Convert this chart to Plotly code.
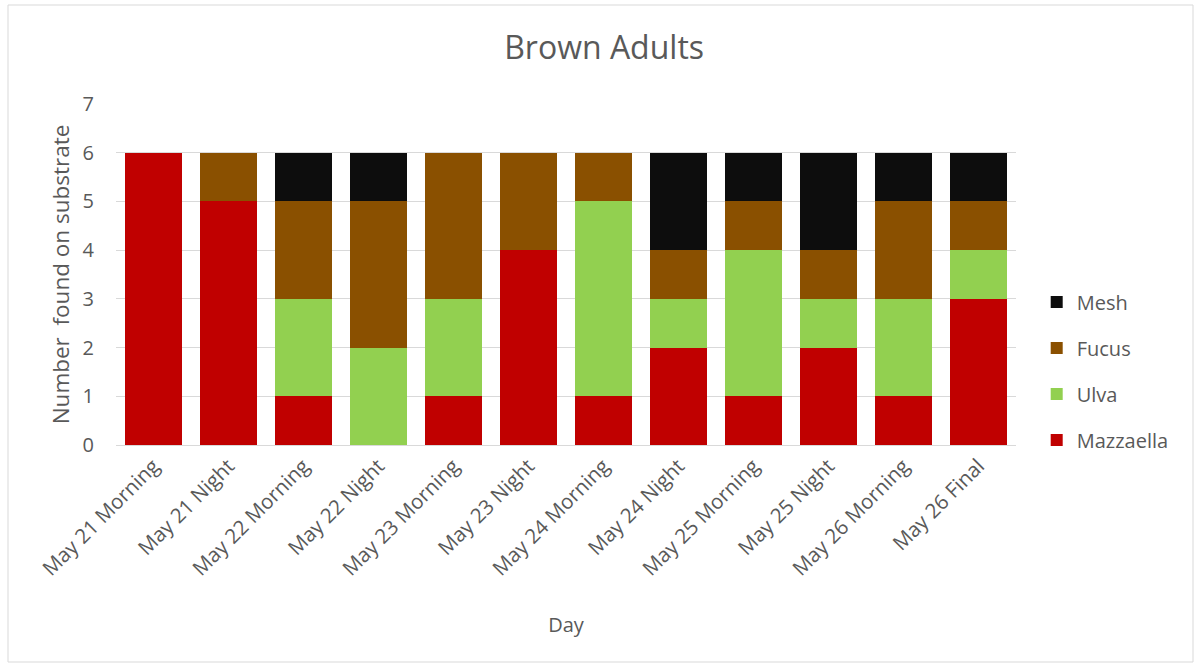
import plotly.graph_objects as go

days = ["May 21 Morning", "May 21 Night", "May 22 Morning", "May 22 Night",
        "May 23 Morning", "May 23 Night", "May 24 Morning", "May 24 Night",
        "May 25 Morning", "May 25 Night", "May 26 Morning", "May 26 Final"]
mazzaella = [6, 5, 1, 0, 1, 4, 1, 2, 1, 2, 1, 3]
ulva = [0, 0, 2, 2, 2, 0, 4, 1, 3, 1, 2, 1]
fucus = [0, 1, 2, 3, 3, 2, 1, 1, 1, 1, 2, 1]
mesh = [0, 0, 1, 1, 0, 0, 0, 2, 1, 2, 1, 1]

series = [("Mazzaella", mazzaella, "#C00000", 4),
          ("Ulva", ulva, "#92D050", 3),
          ("Fucus", fucus, "#8A5000", 2),
          ("Mesh", mesh, "#0D0D0D", 1)]

FONT = "'Open Sans', sans-serif"
TXT = "#595959"

fig = go.Figure()
for name, vals, col, rank in series:
    fig.add_trace(go.Bar(x=days, y=vals, name=name, marker_color=col,
                         marker_line_width=0, legendgroup=name,
                         legendrank=rank))

fig.update_layout(
    barmode="stack",
    bargap=0.25,
    width=1201, height=666,
    paper_bgcolor="white", plot_bgcolor="white",
    margin=dict(l=116, r=185, t=104, b=221),
    font=dict(family=FONT, color=TXT, size=20),
    title=dict(text="Brown Adults", x=0.503, xanchor="center", y=0.928,
               yanchor="middle", font=dict(size=32, color=TXT, family=FONT)),
    legend=dict(traceorder="grouped", x=1.023, xanchor="left",
                y=0.217, yanchor="middle", font=dict(size=20, color=TXT),
                itemwidth=30, tracegroupgap=17, bgcolor="rgba(0,0,0,0)"),
    xaxis=dict(tickangle=-45, tickfont=dict(size=20.5, color=TXT),
               title=dict(text="Day", font=dict(size=20, color=TXT), standoff=37),
               showline=True, linecolor="#D9D9D9", ticks=""),
    yaxis=dict(range=[0, 7], dtick=1, tickfont=dict(size=20, color=TXT),
               gridcolor="#D9D9D9", zeroline=False, ticklabelstandoff=21,
               title=dict(text="Number  found on substrate",
                          font=dict(size=22.5, color=TXT), standoff=6)),
    shapes=[dict(type="rect", xref="paper", yref="paper",
                 x0=(8 - 116) / 900, x1=(1193 - 116) / 900,
                 y0=(445 - 662) / 341, y1=(445 - 5) / 341,
                 line=dict(color="#D9D9D9", width=1), layer="below")],
)

fig.write_html("out.html")
